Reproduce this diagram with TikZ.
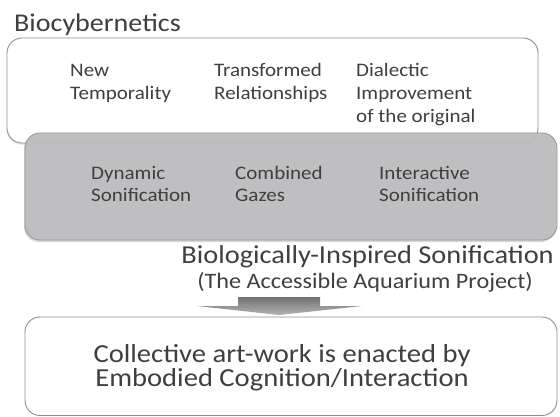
\documentclass[tikz,border=0pt]{standalone}
\usepackage{fontspec}
\setmainfont[FakeStretch=1.1]{Carlito}
\usetikzlibrary{shadows}
\definecolor{txt}{HTML}{3F3F3F}
\definecolor{edge}{HTML}{8E8E8E}
\definecolor{grayfill}{HTML}{BEBEC0}
\tikzset{
  panel/.style={draw=edge, line width=0.9pt, rounded corners=15pt},
  lbl/.style={text=txt, inner sep=0pt, align=left, anchor=base west},
  boxtext/.style={lbl, font=\fontsize{19.1}{23}\selectfont},
}
\begin{document}
\begin{tikzpicture}[x=1pt,y=-1pt]
\useasboundingbox (0,0) rectangle (560,417);
\fill[white] (0,0) rectangle (560,417);
% top panel
\draw[panel, fill=white, drop shadow={opacity=0.15, shadow xshift=0pt, shadow yshift=-2pt}] (7,38) rectangle (538,143);
\node[lbl, font=\fontsize{25.5}{30}\selectfont] (title) at (14,32) {Biocybernetics};
\node[boxtext] (t1) at (70,100) {New\\Temporality};
\node[boxtext] (t2) at (214,100) {Transformed\\Relationships};
\node[boxtext] (t3) at (356,123) {Dialectic\\Improvement\\of the original};
% gray panel
\draw[panel, draw=edge!90, fill=grayfill, fill opacity=0.93, drop shadow={opacity=0.3, shadow xshift=-1pt, shadow yshift=-2pt}] (25,133) rectangle (557,240);
\node[boxtext] (g1) at (91,202) {Dynamic\\Sonification};
\node[boxtext] (g2) at (235,202) {Combined\\Gazes};
\node[boxtext] (g3) at (379,202) {Interactive\\Sonification};
% labels
\node[lbl, anchor=base east, font=\fontsize{25.8}{30}\selectfont] (bio) at (554,263) {Biologically-Inspired Sonification};
\node[lbl, anchor=base east, font=\fontsize{22}{25}\selectfont] (proj) at (533,288) {(The Accessible Aquarium Project)};
% bottom panel
\draw[panel, fill=white] (25,317) rectangle (557,415.5);
\node[text=txt, inner sep=0pt, align=center, anchor=base, font=\fontsize{26}{24}\selectfont] (res) at (282,386) {Collective art-work is enacted by\\Embodied Cognition/Interaction};
% block arrow
\shade[top color=black!55, bottom color=black!30, draw=none]
  (238,297) -- (320,297) -- (320,306) -- (362,306) -- (279,315) -- (197,306) -- (238,306) -- cycle;
\end{tikzpicture}
\end{document}
